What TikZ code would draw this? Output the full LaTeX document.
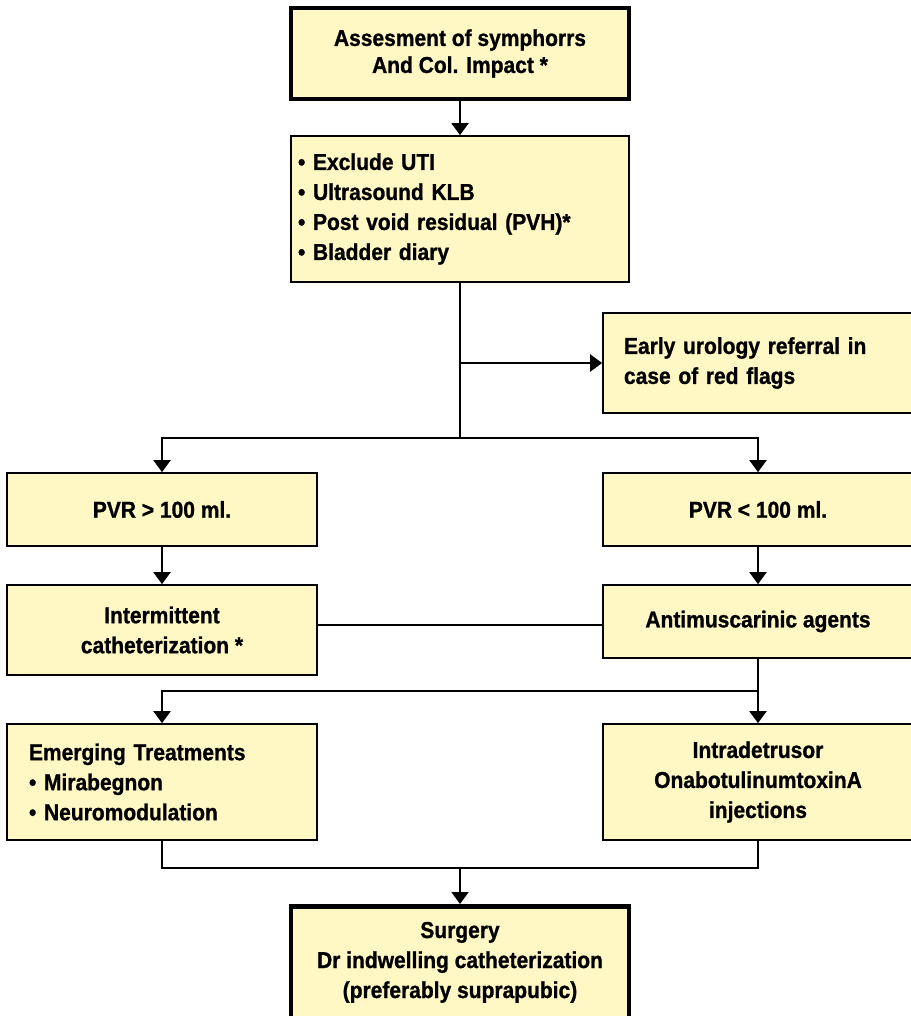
\documentclass[tikz,border=0pt]{standalone}
\usepackage{fontspec}
\setmainfont{Liberation Sans}
\newfontfamily\chartfont{Liberation Sans}[FakeStretch=0.913,FakeBold=1]
\usetikzlibrary{arrows.meta,calc}
\definecolor{boxfill}{RGB}{255,248,196}
\begin{document}
\begin{tikzpicture}[
    x=1pt, y=-1pt,
    every node/.style={font=\chartfont\fontsize{23}{30}\selectfont\bfseries},
    box/.style={draw, line width=1.7pt, fill=boxfill, align=center, inner sep=0pt},
    thickbox/.style={box, line width=4.5pt},
    listbox/.style={box, align=left},
    link/.style={line width=2pt},
    arr/.style={link, -{Triangle[width=17pt,length=12pt]}}
  ]
  \useasboundingbox (0,0) rectangle (910,1016);
  % boxes
  \node[thickbox, minimum width=338, minimum height=91,
        font=\chartfont\fontsize{23}{27}\selectfont\bfseries] (assess) at (460,53.5)
    {Assesment of symphorrs\\And Col. Impact *};
  \node[listbox, inner xsep=7pt, text width=324pt, minimum height=146] (checks) at (460,209)
    {\textbullet{} Exclude UTI\\\textbullet{} Ultrasound KLB\\\textbullet{} Post void residual (PVH)*\\\textbullet{} Bladder diary};
  \node[listbox, inner xsep=21pt, text width=268pt, minimum height=100] (early) at (758,363)
    {Early urology referral in\\case of red flags};
  \node[box, minimum width=310, minimum height=73] (pvrhigh) at (162,509.5) {PVR > 100 ml.};
  \node[box, minimum width=310, minimum height=73] (pvrlow) at (758,509.5) {PVR < 100 ml.};
  \node[box, minimum width=310, minimum height=90] (intcath) at (162,630)
    {Intermittent\\catheterization *};
  \node[box, minimum width=310, minimum height=73] (antimus) at (758,621.5) {Antimuscarinic agents};
  \node[listbox, inner xsep=22pt, text width=266pt, minimum height=116] (emerg) at (162,782)
    {Emerging Treatments\\\textbullet{} Mirabegnon\\\textbullet{} Neuromodulation};
  \node[box, minimum width=310, minimum height=116] (intra) at (758,782)
    {Intradetrusor\\OnabotulinumtoxinA\\injections};
  \node[thickbox, minimum width=338, anchor=north, inner ysep=15.7pt, text depth=110pt] (surg) at (460,904)
    {Surgery\\Dr indwelling catheterization\\(preferably suprapubic)};
  % connectors
  \coordinate (fork) at (460,438);
  \coordinate (split) at (758,691);
  \coordinate (join) at (460,868);
  \draw[arr] (assess.south) -- (checks.north);
  \draw[link] (checks.south) -- (fork);
  \draw[arr] (checks.south |- early.west) -- (early.west);
  \draw[arr] (fork) -| (pvrhigh.north);
  \draw[arr] (fork) -| (pvrlow.north);
  \draw[arr] (pvrhigh.south) -- (intcath.north);
  \draw[arr] (pvrlow.south) -- (antimus.north);
  \draw[link] ($(antimus.west)+(0,3.5)$) -- ($(antimus.west -| intcath.east)+(0,3.5)$);
  \draw[arr] (antimus.south) -- (intra.north);
  \draw[arr] (split) -| (emerg.north);
  \draw[link] (emerg.south) |- (join) -| (intra.south);
  \draw[arr] (join) -- (surg.north);
\end{tikzpicture}
\end{document}
